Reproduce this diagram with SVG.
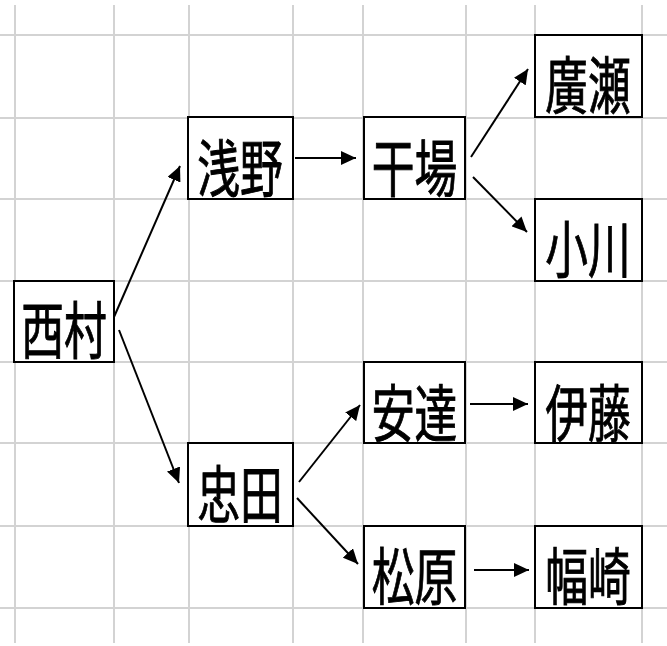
<svg xmlns="http://www.w3.org/2000/svg" width="667" height="646" viewBox="0 0 667 646">
<defs>
<style>
.grid line{stroke:#d3d3d3;stroke-width:2}
.box rect{fill:#fff;stroke:#000;stroke-width:2}
.box text{font-family:"Noto Sans CJK JP","Noto Sans CJK SC",sans-serif;font-size:62px;fill:#000;stroke:#000;stroke-width:0.9px;text-anchor:middle;dominant-baseline:central}
.conn line{stroke:#000;stroke-width:2;marker-end:url(#ah)}
</style>
<marker id="ah" markerUnits="userSpaceOnUse" markerWidth="16" markerHeight="14" refX="15" refY="7" orient="auto">
<path d="M0,0 L15,7 L0,14 Z" fill="#000"/>
</marker>
</defs>
<rect width="667" height="646" fill="#fff"/>
<g class="grid">
<line x1="15" y1="5" x2="15" y2="643"/>
<line x1="114" y1="5" x2="114" y2="643"/>
<line x1="189" y1="5" x2="189" y2="643"/>
<line x1="293" y1="5" x2="293" y2="643"/>
<line x1="363" y1="5" x2="363" y2="643"/>
<line x1="466" y1="5" x2="466" y2="643"/>
<line x1="535" y1="5" x2="535" y2="643"/>
<line x1="642" y1="5" x2="642" y2="643"/>
<line x1="0" y1="35" x2="667" y2="35"/>
<line x1="0" y1="118" x2="667" y2="118"/>
<line x1="0" y1="199" x2="667" y2="199"/>
<line x1="0" y1="281" x2="667" y2="281"/>
<line x1="0" y1="362" x2="667" y2="362"/>
<line x1="0" y1="443" x2="667" y2="443"/>
<line x1="0" y1="526" x2="667" y2="526"/>
<line x1="0" y1="608" x2="667" y2="608"/>
</g>
<g class="conn">
<line x1="114" y1="317" x2="180" y2="166"/>
<line x1="119" y1="330" x2="179" y2="483"/>
<line x1="295" y1="158" x2="356" y2="158"/>
<line x1="471" y1="157" x2="528" y2="69"/>
<line x1="473" y1="177" x2="527" y2="232"/>
<line x1="299" y1="482" x2="360" y2="405"/>
<line x1="297" y1="498" x2="358" y2="564"/>
<line x1="470" y1="404" x2="528" y2="404"/>
<line x1="474" y1="570" x2="529" y2="570"/>
</g>
<g id="n-hirose" class="box"><rect x="535" y="35" width="107" height="82"/><text transform="translate(588,82) scale(0.69,1)">廣瀬</text></g>
<g id="n-asano" class="box"><rect x="188" y="117" width="105" height="82"/><text transform="translate(240,165) scale(0.69,1)">浅野</text></g>
<g id="n-hoshiba" class="box"><rect x="364" y="117" width="101" height="82"/><text transform="translate(414.5,165) scale(0.69,1)">干場</text></g>
<g id="n-ogawa" class="box"><rect x="535" y="199" width="107" height="82"/><text transform="translate(588,246) scale(0.69,1)">小川</text></g>
<g id="n-nishimura" class="box"><rect x="14" y="281" width="100" height="81"/><text transform="translate(64,327) scale(0.69,1)">西村</text></g>
<g id="n-adachi" class="box"><rect x="364" y="362" width="101" height="81"/><text transform="translate(414.5,410) scale(0.69,1)">安達</text></g>
<g id="n-ito" class="box"><rect x="535" y="362" width="107" height="81"/><text transform="translate(588,410) scale(0.69,1)">伊藤</text></g>
<g id="n-tadata" class="box"><rect x="188" y="443" width="105" height="83"/><text transform="translate(240,491) scale(0.69,1)">忠田</text></g>
<g id="n-matsubara" class="box"><rect x="364" y="526" width="101" height="82"/><text transform="translate(414.5,573) scale(0.69,1)">松原</text></g>
<g id="n-habasaki" class="box"><rect x="535" y="526" width="107" height="82"/><text transform="translate(588,573) scale(0.69,1)">幅崎</text></g>
</svg>
